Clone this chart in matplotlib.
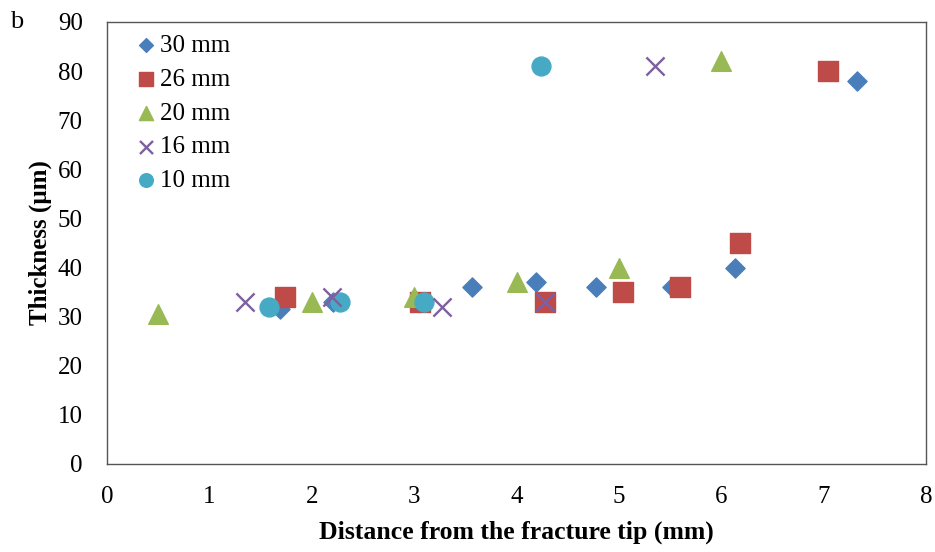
import matplotlib.pyplot as plt

plt.rcParams['font.family'] = ['Liberation Serif', 'DejaVu Serif']

# data
x30 = [1.69, 2.21, 3.57, 4.19, 4.78, 5.52, 6.13, 7.33]
y30 = [31.5, 33, 36, 37, 36, 36, 40, 78]

x26 = [1.74, 3.06, 4.28, 5.04, 5.60, 6.18, 7.04]
y26 = [34, 33, 33, 35, 36, 45, 80]

x20 = [0.50, 2.00, 3.00, 4.00, 5.00, 6.00]
y20 = [30.5, 33, 34, 37, 40, 82]

x16 = [1.35, 2.20, 3.27, 4.28, 5.35]
y16 = [33, 34, 32, 33, 81]

x10 = [1.58, 2.28, 3.10, 4.24]
y10 = [32, 33, 33, 81]

labels = ['30 mm', '26 mm', '20 mm', '16 mm', '10 mm']

fig = plt.figure(figsize=(9.35, 5.52), dpi=100)
ax = fig.add_axes([107/935, 1-464/552, (926-107)/935, (464-22)/552])

ax.scatter(x30, y30, marker='D', s=95, color='#4a7ebb', label=labels[0], zorder=3)
ax.scatter(x26, y26, marker='s', s=200, color='#be4b48', label=labels[1], zorder=3)
ax.scatter(x20, y20, marker='^', s=200, color='#98b954', label=labels[2], zorder=3)
ax.scatter(x16, y16, marker='x', s=170, color='#7d60a0', linewidths=1.7, label=labels[3], zorder=4)
ax.scatter(x10, y10, marker='o', s=185, color='#46aac5', label=labels[4], zorder=3)

ax.set_xlim(0, 8)
ax.set_ylim(0, 90)
ax.set_xticks(range(0, 9))
ax.set_yticks(range(0, 91, 10))
ax.tick_params(length=0, labelsize=18)
ax.tick_params(axis='x', pad=16)
ax.tick_params(axis='y', pad=17.5)
for s in ax.spines.values():
    s.set_color('#555555')
    s.set_linewidth(1.0)

ax.set_xlabel('Distance from the fracture tip (mm)', fontsize=18.5, fontweight='bold', labelpad=9)
ax.set_ylabel('Thickness (µm)', fontsize=18, fontweight='bold', labelpad=4)

leg = ax.legend(loc='upper left', frameon=False, fontsize=18, handletextpad=-0.45,
                labelspacing=0.45, borderaxespad=0.1, markerscale=0.72,
                bbox_to_anchor=(0.002, 1.0))

fig.text(10/935, 1-22/552, 'b', fontsize=19, va='center')

fig.savefig('out.png', dpi=100)
